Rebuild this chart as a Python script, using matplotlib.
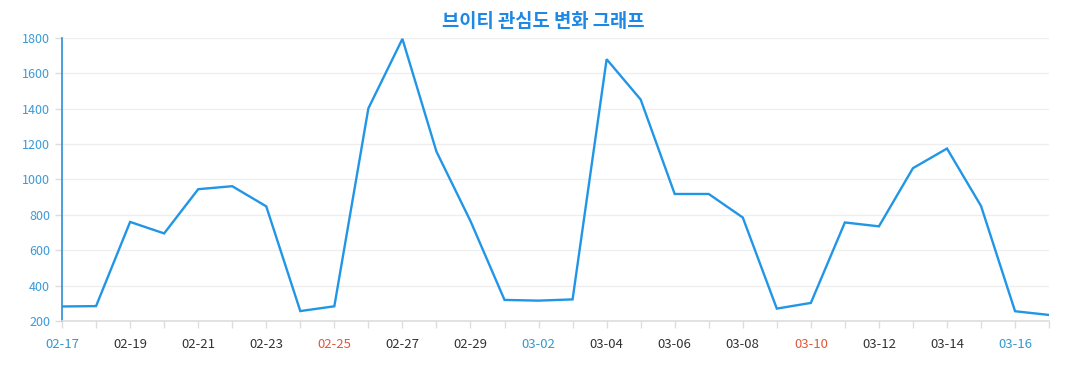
import matplotlib
matplotlib.use("Agg")
import matplotlib.pyplot as plt

plt.rcParams['font.family'] = ['Noto Sans CJK KR', 'DejaVu Sans']

dates = ['02-17', '02-18', '02-19', '02-20', '02-21', '02-22', '02-23', '02-24',
         '02-25', '02-26', '02-27', '02-28', '02-29', '03-01', '03-02', '03-03',
         '03-04', '03-05', '03-06', '03-07', '03-08', '03-09', '03-10', '03-11',
         '03-12', '03-13', '03-14', '03-15', '03-16', '03-17']
values = [282, 284, 760, 695, 945, 962, 848, 256, 283, 1402, 1795, 1158,
          765, 319, 315, 322, 1680, 1452, 918, 918, 785, 270, 302, 757,
          735, 1064, 1175, 850, 255, 234]
saturdays = ['02-17', '03-02', '03-16']
sundays = ['02-25', '03-10']

fig = plt.figure(figsize=(10.77, 3.9), dpi=100)
ax = fig.add_axes([0.0576, 0.177, 0.9165, 0.7256])

x = list(range(len(dates)))
ax.plot(x, values, color='#2196e6', linewidth=1.7, solid_joinstyle='miter')

ax.set_xlim(0, len(dates) - 1)
ax.set_ylim(200, 1800)
ax.set_yticks(range(200, 1801, 200))
ax.set_xticks(x)
ax.set_xticklabels([d if i % 2 == 0 else '' for i, d in enumerate(dates)])

ax.grid(axis='y', color='#eeeeee', linewidth=0.9)
ax.set_axisbelow(True)
for s in ['top', 'right']:
    ax.spines[s].set_visible(False)
ax.spines['left'].set_color('#2b8fd8')
ax.spines['left'].set_linewidth(1.2)
ax.spines['bottom'].set_color('#dddddd')
ax.spines['bottom'].set_linewidth(1.2)

ax.tick_params(axis='y', colors='#dddddd', labelcolor='#3a9ad9', labelsize=9, length=5, width=1)
ax.tick_params(axis='x', colors='#dddddd', labelcolor='#333333', labelsize=9.5, length=5, width=1, pad=7)

for lab, d in zip(ax.get_xticklabels(), dates):
    if d in saturdays:
        lab.set_color('#3399cc')
    elif d in sundays:
        lab.set_color('#e0573a')

fig.suptitle('브이티 관심도 변화 그래프', x=0.504, y=0.97, fontsize=13.5,
             fontweight='bold', color='#1e88e5')

fig.savefig('out.png', dpi=100)
